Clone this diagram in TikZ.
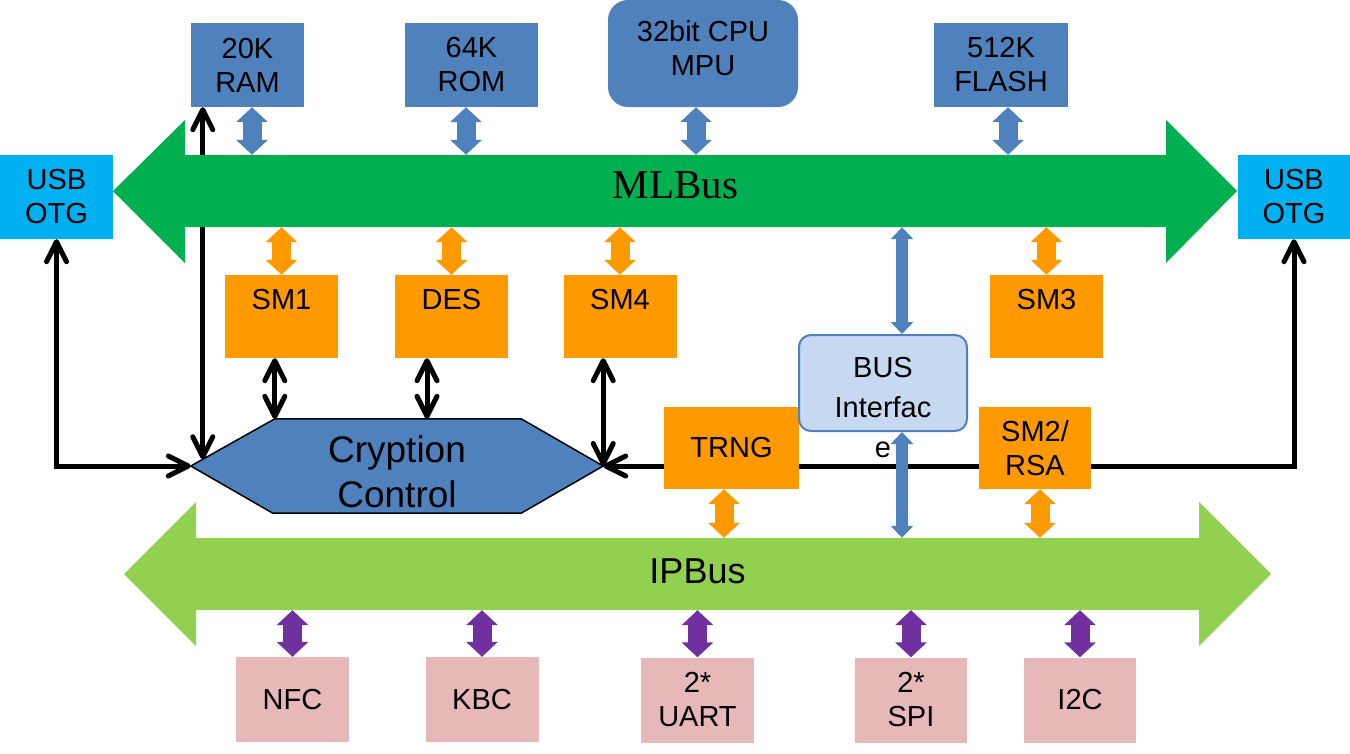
\documentclass[tikz,border=0pt]{standalone}
\usepackage{fontspec}
\setmainfont{Liberation Sans}
\newfontfamily\busserif{Liberation Serif}
\usetikzlibrary{arrows.meta,calc,backgrounds}

\definecolor{memblue}{HTML}{4F81BD}
\definecolor{mlgreen}{HTML}{00B050}
\definecolor{usbcyan}{HTML}{00B0F0}
\definecolor{smorange}{HTML}{FF9900}
\definecolor{ipgreen}{HTML}{92D050}
\definecolor{iopurple}{HTML}{7030A0}
\definecolor{iopink}{HTML}{E6B9B8}
\definecolor{bifill}{HTML}{C6D9F1}

\tikzset{
  blk/.style={line width=5pt, {Straight Barb[length=20pt,width=20pt,round]}-{Straight Barb[length=20pt,width=20pt,round]}},
  fatarr/.style={line width=19pt, {Triangle[length=15pt,width=31pt]}-{Triangle[length=15pt,width=31pt]}},
  thinarr/.style={line width=12pt, memblue, {Triangle[length=12pt,width=22pt]}-{Triangle[length=12pt,width=22pt]}},
  blockbox/.style={inner sep=0pt, align=center, font=\fontsize{29}{34}\selectfont},
  membox/.style={blockbox, fill=memblue, minimum height=84pt},
  usbbox/.style={blockbox, fill=usbcyan, minimum height=84pt},
  smbox/.style={blockbox, fill=smorange, minimum width=113pt, text height=34pt, text depth=49pt},
  rngbox/.style={blockbox, fill=smorange, minimum height=82pt},
  iobox/.style={blockbox, fill=iopink, minimum width=113pt, minimum height=85pt},
  bifbox/.style={draw=memblue, line width=2pt, fill=bifill, rounded corners=12pt, minimum width=168pt, minimum height=96pt, inner sep=0pt},
}

\begin{document}
\begin{tikzpicture}[x=1pt,y=-1pt]
\useasboundingbox (0,0) rectangle (1350,753);

% buses
\fill [mlgreen] (113,191) -- (185,120) -- (185,155) -- (1166,155) -- (1166,120) -- (1237,191) -- (1166,263) -- (1166,227) -- (185,227) -- (185,263) -- cycle;
\node [inner sep=0pt, minimum width=981pt, text height=43pt, text depth=29pt, font=\busserif\fontsize{41}{41}\selectfont] (mlbus) at (675.5,191) {MLBus};

\fill [ipgreen] (124,574) -- (196,502) -- (196,538) -- (1199,538) -- (1199,502) -- (1271,574) -- (1199,646) -- (1199,610) -- (196,610) -- (196,646) -- cycle;
\node [inner sep=0pt, minimum width=1003pt, text height=45pt, text depth=27pt, font=\fontsize{36}{36}\selectfont] (ipbus) at (697.5,574) {IPBus};

% memory and cpu
\node [membox, minimum width=113pt] (ram) at (247.5,65) {20K\\RAM};
\node [membox, minimum width=133pt] (rom) at (471.5,65) {64K\\ROM};
\node [membox, minimum width=190pt, minimum height=107pt, rounded corners=20pt, text height=75pt, text depth=32pt] (cpu) at (703,53.5) {32bit CPU\\MPU};
\node [membox, minimum width=134pt] (flash) at (1001,65) {512K\\FLASH};

\node [usbbox, minimum width=113pt] (usbl) at (56.5,197) {USB\\OTG};
\node [usbbox, minimum width=112pt] (usbr) at (1294,197) {USB\\OTG};

% crypto blocks
\node [smbox] (sm1) at (281.5,316.5) {SM1};
\node [smbox] (des) at (451.5,316.5) {DES};
\node [smbox] (sm4) at (620,316.5) {SM4};
\node [smbox] (sm3) at (1046.5,316.5) {SM3};

\node [rngbox, minimum width=135pt] (trng) at (731.5,448) {TRNG};
\node [rngbox, minimum width=112pt] (sm2) at (1035,448) {SM2/\\RSA};

\node [inner sep=0pt, minimum width=412pt, text height=88pt, text depth=6pt, align=center, font=\fontsize{37}{45}\selectfont] (cc) at (397,466) {Cryption\\Control};

\node [bifbox] (bif) at (883,383) {};
\node [blockbox, font=\fontsize{29}{40}\selectfont, anchor=base] (biftext) at ([yshift=-123pt]bif.north) {BUS\\Interfac\\e};

% peripherals
\node [iobox] (nfc) at (292.5,699.5) {NFC};
\node [iobox] (kbc) at (482,699.5) {KBC};
\node [iobox] (uart) at (697.5,700) {2*\\UART};
\node [iobox, minimum width=112pt] (spi) at (911,700) {2*\\SPI};
\node [iobox, minimum width=112pt] (i2c) at (1080,700) {I2C};

% bus arrows
\draw [fatarr, memblue] ([xshift=4.5pt]ram.south) -- ([xshift=4.5pt]ram.south |- mlbus.north);
\draw [fatarr, memblue] ([xshift=-5.5pt]rom.south) -- ([xshift=-5.5pt]rom.south |- mlbus.north);
\draw [fatarr, memblue] ([xshift=-7pt]cpu.south) -- ([xshift=-7pt]cpu.south |- mlbus.north);
\draw [fatarr, memblue] ([xshift=7pt]flash.south) -- ([xshift=7pt]flash.south |- mlbus.north);

\draw [fatarr, smorange] (sm1.north |- mlbus.south) -- (sm1.north);
\draw [fatarr, smorange] (des.north |- mlbus.south) -- (des.north);
\draw [fatarr, smorange] (sm4.north |- mlbus.south) -- (sm4.north);
\draw [fatarr, smorange] (sm3.north |- mlbus.south) -- (sm3.north);

\draw [fatarr, smorange] ([xshift=-7.5pt]trng.south) -- ([xshift=-7.5pt]trng.south |- ipbus.north);
\draw [fatarr, smorange] ([xshift=5pt]sm2.south) -- ([xshift=5pt]sm2.south |- ipbus.north);

\draw [thinarr] ([xshift=19pt]bif.north) -- ([xshift=19pt]bif.north |- mlbus.south);
\draw [thinarr] ([xshift=19pt]bif.south) -- ([xshift=19pt]bif.south |- ipbus.north);

\draw [fatarr, iopurple] (nfc.north |- ipbus.south) -- (nfc.north);
\draw [fatarr, iopurple] (kbc.north |- ipbus.south) -- (kbc.north);
\draw [fatarr, iopurple] (uart.north |- ipbus.south) -- (uart.north);
\draw [fatarr, iopurple] (spi.north |- ipbus.south) -- (spi.north);
\draw [fatarr, iopurple] (i2c.north |- ipbus.south) -- (i2c.north);

% control lines, under everything
\begin{scope}[on background layer]
\coordinate (ccnw) at ([xshift=84pt]cc.north west);
\coordinate (ccne) at ([xshift=-82pt]cc.north east);
\coordinate (ccsw) at ([xshift=82pt]cc.south west);
\coordinate (ccse) at ([xshift=-82pt]cc.south east);
\filldraw [fill=memblue, draw=black, line width=1.5pt] (cc.west) -- (ccnw) -- (ccne) -- (cc.east) -- (ccse) -- (ccsw) -- cycle;

\coordinate (ramhit) at ($(cc.west)!1/7!(ccnw)$);

\draw [blk] (usbl.south) |- (cc.west);
\draw [blk] (usbr.south) |- (cc.east);
\draw [blk] (ramhit |- ram.south) -- (ramhit);
\draw [blk] (ccnw |- sm1.south) -- (ccnw);
\draw [blk] ([xshift=-24.5pt]des.south) -- ([xshift=-24.5pt]des.south |- cc.north);
\draw [blk] (cc.east |- sm4.south) -- (cc.east);
\end{scope}

\end{tikzpicture}
\end{document}
